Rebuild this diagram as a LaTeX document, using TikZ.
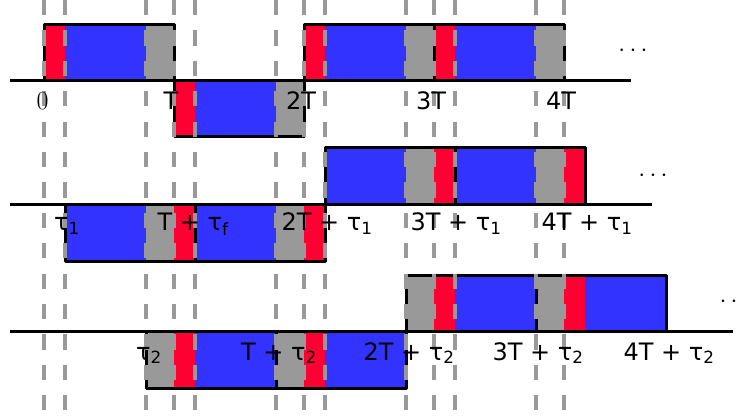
\documentclass[tikz,border=0pt]{standalone}
\usepackage{fontspec}
\setsansfont{DejaVu Sans}
\definecolor{clrGuard}  {HTML}{FF0033}
\definecolor{clrPay}    {HTML}{3333FF}
\definecolor{clrIdle}   {HTML}{999999}
\definecolor{clrGuide}  {HTML}{999999}
\tikzset{
  guard/.style   = {fill=clrGuard},
  payload/.style = {fill=clrPay},
  idle/.style    = {fill=clrIdle},
  slot/.style    = {draw=black, line width=3pt, line join=round},
  rail/.style    = {draw=black, line width=3pt},
  guide/.style   = {draw=clrGuide, line width=3.5pt,
                    dash pattern=on 15.2pt off 15.2pt},
  lbl/.style     = {font=\sffamily\fontsize{24}{28}\selectfont,
                    anchor=base, inner sep=0pt},
  % continuation dots (slightly larger)
  more/.style    = {font=\fontsize{27}{30}\selectfont, inner sep=0pt},
}

\begin{document}
\begin{tikzpicture}[x=1pt, y=-1pt]
\useasboundingbox (0,0) rectangle (743,419);

% ══════════════════════════════════════════════════════════════════════════
%  ROW 1 — reference signal, edges at kT
% ══════════════════════════════════════════════════════════════════════════

\fill[guard]   (44,25)  rectangle (65,81)   (174,81) rectangle (195,137)
               (304,25) rectangle (325,81)  (434,25) rectangle (455,81);
\fill[payload] (65,25)  rectangle (146,81)  (195,81) rectangle (276,137)
               (325,25) rectangle (406,81)  (455,25) rectangle (536,81);
\fill[idle]    (146,25) rectangle (174,81)  (276,81) rectangle (304,137)
               (406,25) rectangle (434,81)  (536,25) rectangle (564,81);
\draw[slot]    (44,25)  rectangle (174,81)  (174,81) rectangle (304,137)
               (304,25) rectangle (434,81)  (434,25) rectangle (564,81);
\draw[rail]    (10,81) -- (631,81);

% ══════════════════════════════════════════════════════════════════════════
%  ROW 2 — delayed by tau_1
% ══════════════════════════════════════════════════════════════════════════

\fill[payload] (65,205)  rectangle (146,262) (195,205) rectangle (276,262)
               (325,148) rectangle (406,205) (455,148) rectangle (536,205);
\fill[idle]    (146,205) rectangle (174,262) (276,205) rectangle (304,262)
               (406,148) rectangle (434,205) (536,148) rectangle (564,205);
\fill[guard]   (174,205) rectangle (195,262) (304,205) rectangle (325,262)
               (434,148) rectangle (455,205) (564,148) rectangle (585,205);
\draw[slot]    (65,205)  rectangle (195,262) (195,205) rectangle (325,262)
               (325,148) rectangle (455,205) (455,148) rectangle (585,205);
\draw[rail]    (10,205) -- (652,205);

% ══════════════════════════════════════════════════════════════════════════
%  ROW 3 — delayed by tau_2
% ══════════════════════════════════════════════════════════════════════════

\fill[idle]    (146,331) rectangle (174,388) (276,331) rectangle (304,388)
               (406,275) rectangle (434,331) (536,275) rectangle (564,331);
\fill[guard]   (174,331) rectangle (195,388) (304,331) rectangle (325,388)
               (434,275) rectangle (455,331) (564,275) rectangle (585,331);
\fill[payload] (195,331) rectangle (276,388) (325,331) rectangle (406,388)
               (455,275) rectangle (536,331) (585,275) rectangle (666,331);
\draw[slot]    (146,331) rectangle (276,388) (276,331) rectangle (406,388)
               (406,275) rectangle (536,331) (536,275) rectangle (666,331);
\draw[rail]    (10,331) -- (733,331);

% ══════════════════════════════════════════════════════════════════════════
%  Guide lines — kT, kT + tau_1, kT + tau_2
% ══════════════════════════════════════════════════════════════════════════

\draw[guide] (44,0)  -- (44,419)  (65,0)  -- (65,419)  (146,0) -- (146,419)
             (174,0) -- (174,419) (195,0) -- (195,419) (276,0) -- (276,419)
             (304,0) -- (304,419) (325,0) -- (325,419) (406,0) -- (406,419)
             (434,0) -- (434,419) (455,0) -- (455,419) (536,0) -- (536,419)
             (564,0) -- (564,419);

% ══════════════════════════════════════════════════════════════════════════
%  Time labels (on top of the guides)
% ══════════════════════════════════════════════════════════════════════════

\node[lbl, font=\rmfamily\fontsize{26}{30}\selectfont] (r1t0) at (42.5,110) {0};
\node[lbl] (r1t1) at (171,110) {T};
\node[lbl] (r1t2) at (301,110) {2T};
\node[lbl] (r1t3) at (431,110) {3T};
\node[lbl] (r1t4) at (561,110) {4T};

\node[lbl] (r2t0) at (67,231)  {τ\textsubscript{1}};
\node[lbl] (r2t1) at (193,231) {T + τ\textsubscript{f}};
\node[lbl] (r2t2) at (327,231) {2T + τ\textsubscript{1}};
\node[lbl] (r2t3) at (456,231) {3T + τ\textsubscript{1}};
\node[lbl] (r2t4) at (587,231) {4T + τ\textsubscript{1}};

\node[lbl] (r3t0) at (149,360) {τ\textsubscript{2}};
\node[lbl] (r3t1) at (279,360) {T + τ\textsubscript{2}};
\node[lbl] (r3t2) at (409,360) {2T + τ\textsubscript{2}};
\node[lbl] (r3t3) at (538,360) {3T + τ\textsubscript{2}};
\node[lbl] (r3t4) at (669,360) {4T + τ\textsubscript{2}};

% ── continuation dots ───────────────────────────────────────────────────
\node[more] (etc1) at (633,51)  {$\cdots$};
\node[more] (etc2) at (653,176) {$\cdots$};
\node[more] (etc3) at (734,302) {$\cdots$};

\end{tikzpicture}
\end{document}
